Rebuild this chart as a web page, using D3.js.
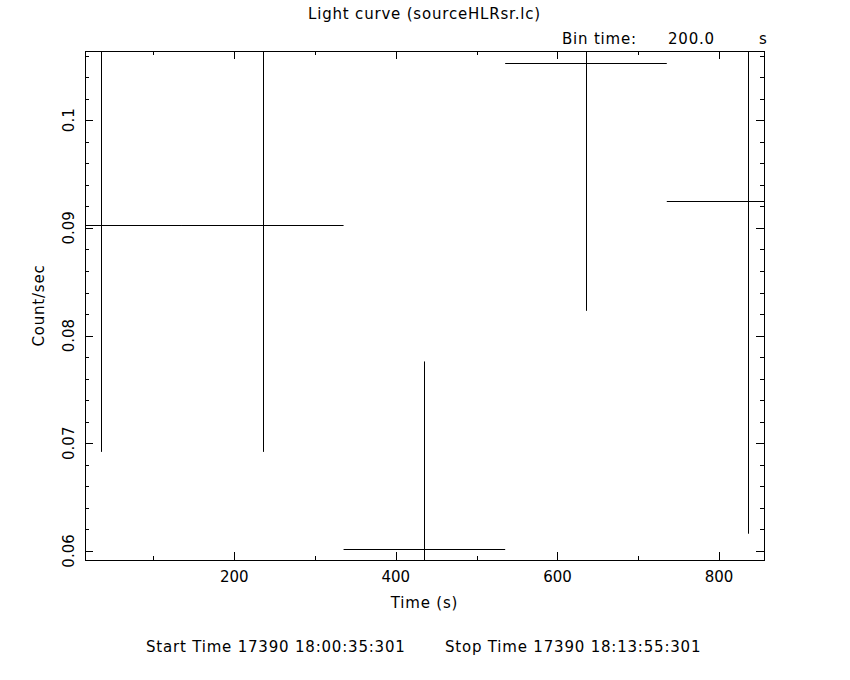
<!DOCTYPE html>
<html>
<head>
<meta charset="utf-8">
<script src="https://cdn.jsdelivr.net/npm/d3@7"></script>
<style>
  body { margin: 0; background: #fff; }
  text { font-family: "DejaVu Sans", sans-serif; font-size: 15px; fill: #000; }
  .wide { letter-spacing: 0.8px; }
</style>
</head>
<body>
<div id="chart"></div>
<script>
// light curve bins: centre time (s), rate (count/s), rate error
var times = [35.3, 235.3, 435.3, 635.3, 835.3];
var halfWidth = [100, 100, 100, 100, 100];
var rates = [0.0903, 0.0903, 0.0602, 0.1053, 0.0925];
var errors = [0.0211, 0.0211, 0.0174, 0.0230, 0.0309];

var xMajor = [200, 400, 600, 800];
var yMajor = [0.06, 0.07, 0.08, 0.09, 0.1];
var yLabels = ["0.06", "0.07", "0.08", "0.09", "0.1"];

var title = "Light curve (sourceHLRsr.lc)";
var startText = "Start Time 17390 18:00:35:301";
var stopText = "Stop Time 17390 18:13:55:301";

var W = 850, H = 680;
var margin = {top: 51, right: 86, bottom: 120, left: 85},
  width = W - margin.left - margin.right,
  height = H - margin.top - margin.bottom;

var svg = d3.select("#chart")
  .append("svg")
    .attr("width", W)
    .attr("height", H);

var g = svg.append("g")
    .attr("transform", "translate(" + margin.left + "," + margin.top + ")");

var x = d3.scaleLinear().domain([15.3, 855.6]).range([0, width]);
var y = d3.scaleLinear().domain([0.05916, 0.10643]).range([height, 0]);

var xMinor = d3.range(100, 900, 100);
var yMinor = d3.range(0.06, 0.1065, 0.002);

// ticks on all four sides, pointing in
function tickAxes(axisFn, scale, vals, size, tf) {
  var a = g.append("g")
    .attr("transform", tf)
    .call(axisFn(scale).tickValues(vals).tickSize(size).tickFormat(""));
  a.select(".domain").remove();
  a.selectAll("line").attr("stroke", "#000").attr("shape-rendering", "crispEdges");
  return a;
}
tickAxes(d3.axisBottom, x, xMinor, -4, "translate(0," + height + ")");
tickAxes(d3.axisBottom, x, xMajor, -8, "translate(0," + height + ")");
tickAxes(d3.axisTop, x, xMinor, -4, "translate(0,0)");
tickAxes(d3.axisTop, x, xMajor, -8, "translate(0,0)");
tickAxes(d3.axisLeft, y, yMinor, -4, "translate(0,0)");
tickAxes(d3.axisLeft, y, yMajor, -8, "translate(0,0)");
tickAxes(d3.axisRight, y, yMinor, -4, "translate(" + width + ",0)");
tickAxes(d3.axisRight, y, yMajor, -8, "translate(" + width + ",0)");

// tick labels
g.selectAll(".xl")
  .data(xMajor)
  .enter()
  .append("text")
    .attr("x", function(d) { return x(d); })
    .attr("y", height + 22)
    .attr("text-anchor", "middle")
    .text(function(d) { return d; });

g.selectAll(".yl")
  .data(yMajor)
  .enter()
  .append("text")
    .attr("transform", function(d) { return "translate(-11," + y(d) + ") rotate(-90)"; })
    .attr("text-anchor", "middle")
    .text(function(d, i) { return yLabels[i]; });

// error bars, clipped to the frame
svg.append("clipPath").attr("id", "clip")
  .append("rect").attr("width", width).attr("height", height);

var bars = g.append("g").attr("clip-path", "url(#clip)");
var idx = d3.range(times.length);

bars.selectAll(".h")
  .data(idx)
  .enter()
  .append("line")
    .attr("x1", function(i) { return x(times[i] - halfWidth[i]); })
    .attr("x2", function(i) { return x(times[i] + halfWidth[i]); })
    .attr("y1", function(i) { return Math.round(y(rates[i])) + 0.5; })
    .attr("y2", function(i) { return Math.round(y(rates[i])) + 0.5; })
    .attr("stroke", "#000");

bars.selectAll(".v")
  .data(idx)
  .enter()
  .append("line")
    .attr("x1", function(i) { return Math.round(x(times[i])) + 0.5; })
    .attr("x2", function(i) { return Math.round(x(times[i])) + 0.5; })
    .attr("y1", function(i) { return y(rates[i] - errors[i]); })
    .attr("y2", function(i) { return y(rates[i] + errors[i]); })
    .attr("stroke", "#000");

// frame
g.append("rect")
  .attr("x", 0.5).attr("y", 0.5)
  .attr("width", width).attr("height", height)
  .attr("fill", "none")
  .attr("stroke", "#000")
  .attr("shape-rendering", "crispEdges");

// labels
g.append("text")
  .attr("class", "wide")
  .attr("x", width / 2).attr("y", height + 48)
  .attr("text-anchor", "middle")
  .text("Time (s)");

g.append("text")
  .attr("class", "wide")
  .attr("transform", "translate(-41," + (height / 2) + ") rotate(-90)")
  .attr("text-anchor", "middle")
  .text("Count/sec");

svg.append("text")
  .attr("class", "wide")
  .attr("x", margin.left + width / 2).attr("y", 19)
  .attr("text-anchor", "middle")
  .text(title);

svg.append("text").attr("class", "wide").attr("x", 562).attr("y", 44).text("Bin time:");
svg.append("text").attr("class", "wide").attr("x", 668).attr("y", 44).text("200.0");
svg.append("text").attr("class", "wide").attr("x", 759).attr("y", 44).text("s");

svg.append("text").attr("class", "wide").attr("x", 146).attr("y", 652).text(startText);
svg.append("text").attr("class", "wide").attr("x", 445).attr("y", 652).text(stopText);
</script>
</body>
</html>
